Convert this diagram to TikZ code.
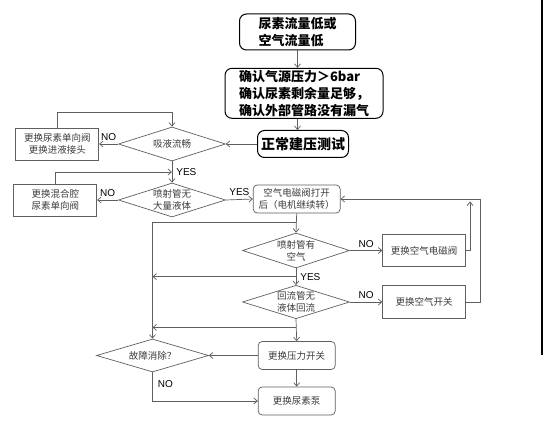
\documentclass[tikz,border=0pt]{standalone}
\usepackage{fontspec}
\setmainfont{Liberation Sans}
\newfontfamily\cjk{Noto Sans CJK SC}
\usetikzlibrary{shapes.geometric, arrows.meta, positioning, calc}
\definecolor{linegray}{RGB}{95,95,95}
\definecolor{textgray}{RGB}{60,60,60}

\begin{document}
\begin{tikzpicture}[x=1pt, y=-1pt, >={Straight Barb[length=3.5pt,width=6pt]},
    conn/.style={draw=linegray, line width=0.7pt},
    topbox/.style={draw=black, line width=1pt, rounded corners=7pt, align=left, inner sep=0pt,
        font=\cjk\bfseries\fontsize{13}{17}\selectfont},
    sbox/.style={draw=linegray, line width=0.7pt, align=center, inner sep=0pt, text=textgray,
        minimum width=83pt, minimum height=32pt, font=\cjk\fontsize{9.5}{12}\selectfont},
    rbox/.style={sbox, rounded corners=4pt, minimum width=77pt, minimum height=28pt},
    dec/.style={sbox, shape=diamond, aspect=3, minimum width=107pt, minimum height=34pt},
    lbl/.style={font=\fontsize{10}{12}\selectfont, inner sep=1pt, text=black}]
    \fill[white] (0,0) rectangle (544,427);
    \useasboundingbox (0,0) rectangle (544,427);
    % main column
    \node[topbox, minimum width=116pt, minimum height=36pt] (b1) at (297.5,32) {尿素流量低或\\空气流量低};
    \node[topbox, minimum width=158pt, minimum height=50pt] (b2) at (304,93.3) {确认气源压力＞6bar\\确认尿素剩余量足够，\\确认外部管路没有漏气};
    \node[topbox, font=\cjk\bfseries\fontsize{14}{17}\selectfont, minimum width=91pt, minimum height=27pt] (b3) at (303,144) {正常建压测试};
    \draw[conn, ->] (b1.south) -- (b1.south |- b2.north);
    \draw[conn, ->] (b1.south |- b2.south) -- (b1.south |- b3.north);
    % left checks
    \node[dec] (d1) at (172,144) {吸液流畅};
    \node[dec] (d2) at (172,200) {喷射管无\\大量液体};
    \node[sbox, left=19pt of d1] (l1) {更换尿素单向阀\\更换进液接头};
    \node[sbox, left=21pt of d2] (l2) {更换混合腔\\尿素单向阀};
    \draw[conn, ->] (b3.west) -- (d1.east);
    \draw[conn, ->] (d1.west) -- node[lbl, above=2pt]{NO} (l1.east);
    \draw[conn, ->] (l1.north) -- ++(0,-15) -| (d1.north);
    \coordinate (j1) at ($(d1.south)!0.5!(d2.north)$);
    \draw[conn, ->] (d1.south) -- node[lbl, right=3pt]{YES} (d2.north);
    \draw[conn, ->] (l2.north) |- (j1);
    \draw[conn, ->] (d2.west) -- node[lbl, above=2pt]{NO} (l2.east);
    % air path
    \node[rbox, minimum width=87pt] (m1) at (296.7,199) {空气电磁阀打开\\后（电机继续转）};
    \node[dec, minimum height=35pt] (d3) at (296,250.5) {喷射管有\\空气};
    \node[dec, minimum height=33pt] (d4) at (296,302) {回流管无\\液体回流};
    \node[sbox, right=32.5pt of d3] (r1) {更换空气电磁阀};
    \node[sbox, right=32.5pt of d4, minimum height=33pt] (r2) {更换空气开关};
    \draw[conn, ->] (d2.east) -- node[lbl, above=3pt]{YES} (m1.west);
    \draw[conn, ->] (m1.south) -- (d3.north);
    \draw[conn, ->] (d3.east) -- node[lbl, above=2pt]{NO} (r1.west);
    \draw[conn, ->] (r1.east) -- ++(4,0) -- ++(0,-49);
    \draw[conn, ->] (r2.east) -- ++(14,0) |- (m1.east);
    \draw[conn, ->] (d3.south) -- node[lbl, right=3pt]{YES} (d4.north);
    \draw[conn, ->] (d4.east) -- node[lbl, above=2pt]{NO} (r2.west);
    % final checks
    \node[rbox] (m2) at (296.7,355.5) {更换压力开关};
    \node[rbox] (m3) at (296.7,401) {更换尿素泵};
    \node[dec, minimum width=112pt, minimum height=33pt] (d5) at (152.5,355.5) {故障消除？};
    \coordinate (j2) at ($(m1.south)!0.47!(d3.north)$);
    \coordinate (j3) at ($(d3.south)!0.5!(d4.north)$);
    \coordinate (j4) at ($(d4.south)!0.38!(m2.north)$);
    \draw[conn, ->] (j2) -| (d5.north);
    \draw[conn, ->] (j3) -- (j3 -| d5.north);
    \draw[conn, ->] (d4.south) -- (m2.north);
    \draw[conn, ->] (j4) -- (j4 -| d5.north);
    \draw[conn, ->] (m2.west) -- (d5.east);
    \draw[conn, ->] (m2.south) -- (m3.north);
    \draw[conn, ->] (d5.south) |- node[lbl, pos=0.2, right=4pt]{NO} (m3.west);
    % edge bar
    \draw[line width=2pt] (542,0) -- (542,355);
\end{tikzpicture}
\end{document}
